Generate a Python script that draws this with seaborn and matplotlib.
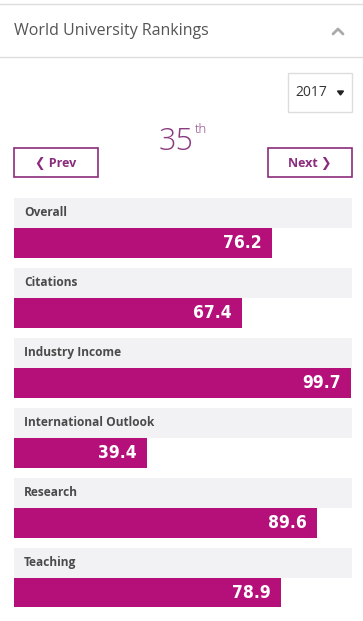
import numpy as np
import pandas as pd
import seaborn as sns
import matplotlib.pyplot as plt
from matplotlib.patches import Rectangle

# data
categories = ["Overall", "Citations", "Industry Income", "International Outlook", "Research", "Teaching"]
scores = [76.2, 67.4, 99.7, 39.4, 89.6, 78.9]
rank = 35
year = "2017"

df = pd.DataFrame({"Category": categories, "Score": scores})

W, H = 363, 621
bar_color = "#b5107a"
band_color = "#f2f1f3"
purple = "#8a2c7d"

sns.set_theme(style="white")
plt.rcParams["font.family"] = ["Open Sans", "DejaVu Sans"]

fig = plt.figure(figsize=(W / 100, H / 100), dpi=100, facecolor="white")


def fig_rect(x0, y0, x1, y1):
    # pixel box (top-left origin) -> figure fraction
    return [x0 / W, 1 - y1 / H, (x1 - x0) / W, (y1 - y0) / H]


# UI overlay in pixel coords
ui = fig.add_axes([0, 0, 1, 1], zorder=0)
ui.set_xlim(0, W)
ui.set_ylim(H, 0)
ui.axis("off")

ui.plot([0, W], [4, 4], color="#dddddd", lw=1)
ui.plot([0, W], [57, 57], color="#dddddd", lw=1)
ui.text(14, 31, "World University Rankings", fontsize=11.5, color="#555555", va="center", ha="left")
ui.plot([333, 338, 343], [34, 29, 34], color="#aaaaaa", lw=2, solid_capstyle="round")

# year dropdown
ui.add_patch(Rectangle((288, 73), 64, 39, fill=False, ec="#dddddd", lw=1))
ui.text(295, 93, year, fontsize=10, color="#333333", va="center", ha="left")
ui.fill([337.5, 343.5, 340.5], [91, 91, 95], color="#222222")

# rank
ui.text(194, 150, str(rank), fontsize=22, color="#8b3a80", va="baseline", ha="right", fontweight="light")
ui.text(195, 133, "th", fontsize=9.5, color="#8b3a80", va="baseline", ha="left", fontweight="light")

# buttons
for x0, label in [(14, "\u276e Prev"), (268, "Next \u276f")]:
    ui.add_patch(Rectangle((x0, 148), 84, 29, fill=False, ec=purple, lw=1.2))
    ui.text(x0 + 42, 163, label, fontsize=9, color=purple, fontweight="bold",
            va="center", ha="center", family=["Open Sans", "DejaVu Sans"])

# bar axes
row_px = 70
top_px, bot_px = 198, 607
ax = fig.add_axes(fig_rect(14, top_px, 352, bot_px), zorder=1)
ax.patch.set_alpha(0)
bar_h = 30 / row_px
n = len(categories)
ax.barh(np.arange(n) - bar_h, [100] * n, height=bar_h, color=band_color, left=0, lw=0)
sns.barplot(data=df, x="Score", y="Category", orient="h", color=bar_color,
            saturation=1, width=bar_h, ax=ax, linewidth=0)
ax.set_xlim(0, 100)
ax.set_ylim(n - 1 + 14.5 / row_px, -(242.5 - 198) / row_px)
ax.axis("off")

for i, (cat, val) in enumerate(zip(categories, scores)):
    ax.text(3, i - bar_h, cat, fontsize=8.6, fontweight="bold", color="#4a4a4a",
            va="center", ha="left")
    ax.text(val - 3, i, f"{val:.1f}", fontsize=12.5, fontweight="bold", color="white",
            va="center", ha="right", family="DejaVu Sans", fontstretch="condensed")

fig.savefig("out.png", dpi=100, facecolor="white")
